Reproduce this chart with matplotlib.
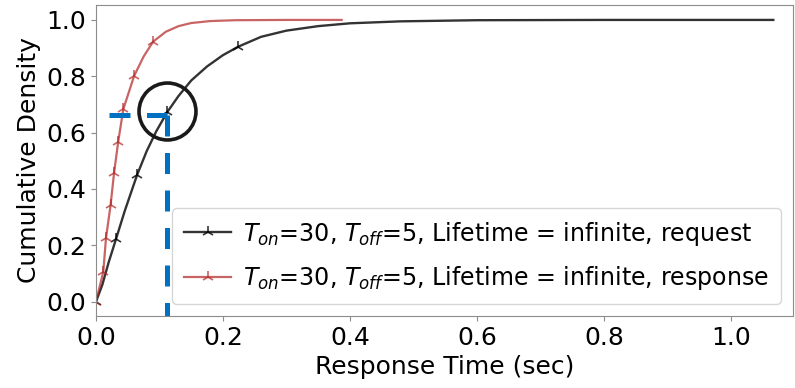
import matplotlib
matplotlib.use('Agg')
import matplotlib.pyplot as plt

plt.rcParams['font.size'] = 18

# CDF of request response times
req_time = [0, 0.01, 0.02, 0.0315, 0.045, 0.0646, 0.08, 0.095, 0.112, 0.13,
            0.15, 0.175, 0.2, 0.224, 0.26, 0.3, 0.35, 0.4, 0.48, 0.6, 0.8, 1.067]
req_cdf = [0, 0.06, 0.14, 0.222, 0.32, 0.449, 0.535, 0.605, 0.672, 0.73,
           0.785, 0.835, 0.875, 0.905, 0.94, 0.962, 0.978, 0.988, 0.995, 0.999, 1.0, 1.0]
req_marks = [0, 3, 5, 8, 13]

# CDF of response times
resp_time = [0, 0.0115, 0.0157, 0.023, 0.0284, 0.035, 0.043, 0.06, 0.075, 0.09,
             0.11, 0.13, 0.15, 0.18, 0.22, 0.3, 0.387]
resp_cdf = [0, 0.106, 0.225, 0.343, 0.456, 0.568, 0.683, 0.801, 0.87, 0.923,
            0.958, 0.978, 0.989, 0.996, 0.999, 1.0, 1.0]
resp_marks = [0, 1, 2, 3, 4, 5, 6, 7, 9]

# highlighted point
pick_x = 0.1126
pick_y = 0.663
circle_y = 0.677

fig = plt.figure(figsize=(7.95, 3.88), dpi=100)
ax = fig.add_subplot(111)
fig.subplots_adjust(left=96/795, right=793/795, top=1-5/388, bottom=1-316/388)

ax.plot(req_time, req_cdf, color='k', alpha=0.8, lw=1.7, marker='2', ms=9, mew=1.2,
        markevery=req_marks,
        label=r'$T_{on}$=30, $T_{off}$=5, Lifetime = infinite, request')
ax.plot(resp_time, resp_cdf, color='#b22222', alpha=0.7, lw=1.6, marker='2', ms=9, mew=1.2,
        markevery=resp_marks,
        label=r'$T_{on}$=30, $T_{off}$=5, Lifetime = infinite, response')

ax.set_xlim(0, 1.098)
ax.set_ylim(-0.051, 1.053)

# dashed guide lines and circle
ax.plot([0.02, pick_x], [pick_y, pick_y], color='#0070c0', lw=3.6,
        linestyle=(0, (4.2, 3.3)), dash_capstyle='butt')
ax.plot([pick_x, pick_x], [pick_y, -0.06], color='#0070c0', lw=3.6,
        linestyle=(0, (4.2, 3.3)), dash_capstyle='butt')
ax.plot([pick_x], [circle_y], marker='o', ms=41, mfc='none', mec='#1a1a1a', mew=2.6)

ax.set_xlabel('Response Time (sec)')
ax.set_ylabel('Cumulative Density')

for s in ax.spines.values():
    s.set_color('0.55')
ax.tick_params(color='0.55')

ax.legend(loc='lower right', fontsize=17.1, labelspacing=0.7, borderpad=0.5,
          handlelength=2.0, handletextpad=0.5)

fig.savefig('out.png', dpi=100)
